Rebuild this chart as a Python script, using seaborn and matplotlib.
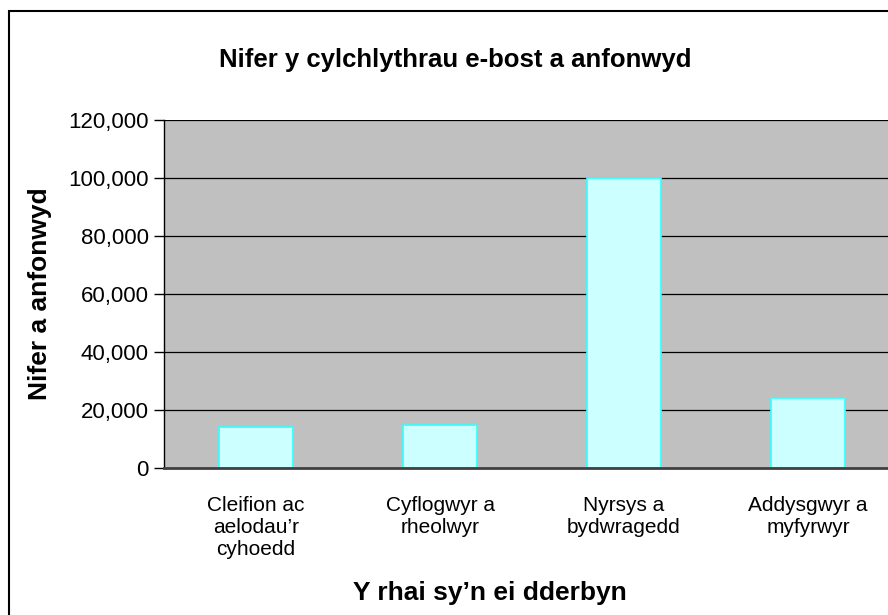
import matplotlib
matplotlib.use("Agg")
import matplotlib.pyplot as plt
from matplotlib.patches import Rectangle
from matplotlib.ticker import FuncFormatter, FixedLocator
import seaborn as sns
import pandas as pd

sns.set_theme(style="white")
plt.rcParams['font.family'] = ['Liberation Sans', 'DejaVu Sans']
plt.rcParams['text.color'] = 'black'
plt.rcParams['axes.labelcolor'] = 'black'

categories = ["Cleifion ac\naelodau\u2019r\ncyhoedd", "Cyflogwyr a\nrheolwyr",
              "Nyrsys a\nbydwragedd", "Addysgwyr a\nmyfyrwyr"]
sent = [14000, 15000, 100000, 24000]
yticks = [0, 20000, 40000, 60000, 80000, 100000, 120000]

df = pd.DataFrame({"grp": categories, "n": sent})

fig = plt.figure(figsize=(8.88, 6.15), dpi=100)
ax = fig.add_axes([164/888, 1 - 468/615, 736/888, 348/615])
ax.set_facecolor("#C0C0C0")

sns.barplot(data=df, x="grp", y="n", ax=ax, width=0.4, color="#CCFFFF",
            edgecolor="#33FFFF", linewidth=1.2, saturation=1, zorder=3)

ax.set_ylim(0, 120000)
ax.set_xlim(-0.5, 3.5)
ax.set_yticks(yticks)
ax.yaxis.set_major_formatter(FuncFormatter(lambda v, p: f"{int(v):,}"))
for y in yticks[1:]:
    ax.axhline(y, color="black", lw=0.9, zorder=1)

ax.xaxis.set_minor_locator(FixedLocator([-0.5, 0.5, 1.5, 2.5, 3.5]))
ax.tick_params(axis="x", which="major", length=0, pad=20, labelsize=15, labelcolor="black")
ax.tick_params(axis="x", which="minor", length=7, width=1, color="black", direction="out")
ax.tick_params(axis="y", length=7, width=1, color="black", direction="out",
               labelsize=16, labelcolor="black", pad=4, left=True)

for s in ["top", "right"]:
    ax.spines[s].set_visible(False)
ax.spines["left"].set_color("black")
ax.spines["left"].set_linewidth(1)
ax.spines["bottom"].set_color("#404040")
ax.spines["bottom"].set_linewidth(2)
ax.spines["left"].set_zorder(4)
ax.spines["bottom"].set_zorder(4)

ax.set_xlabel("Y rhai sy\u2019n ei dderbyn", fontsize=19, fontweight="bold", labelpad=16)
ax.xaxis.set_label_coords((490 - 164) / 736, -(600 - 468) / 348, transform=ax.transAxes)
ax.xaxis.label.set_va("baseline")
ax.set_ylabel("Nifer a anfonwyd", fontsize=19, fontweight="bold", labelpad=12)
fig.text(455/888, 1 - 60/615, "Nifer y cylchlythrau e-bost a anfonwyd",
         ha="center", va="center", fontsize=18.5, fontweight="bold")

fig.patches.append(Rectangle((9/888, -0.1), 1.2, 1.1 - 11/615, transform=fig.transFigure,
                             fill=False, edgecolor="black", lw=1.5))

fig.savefig("out.png", dpi=100)
